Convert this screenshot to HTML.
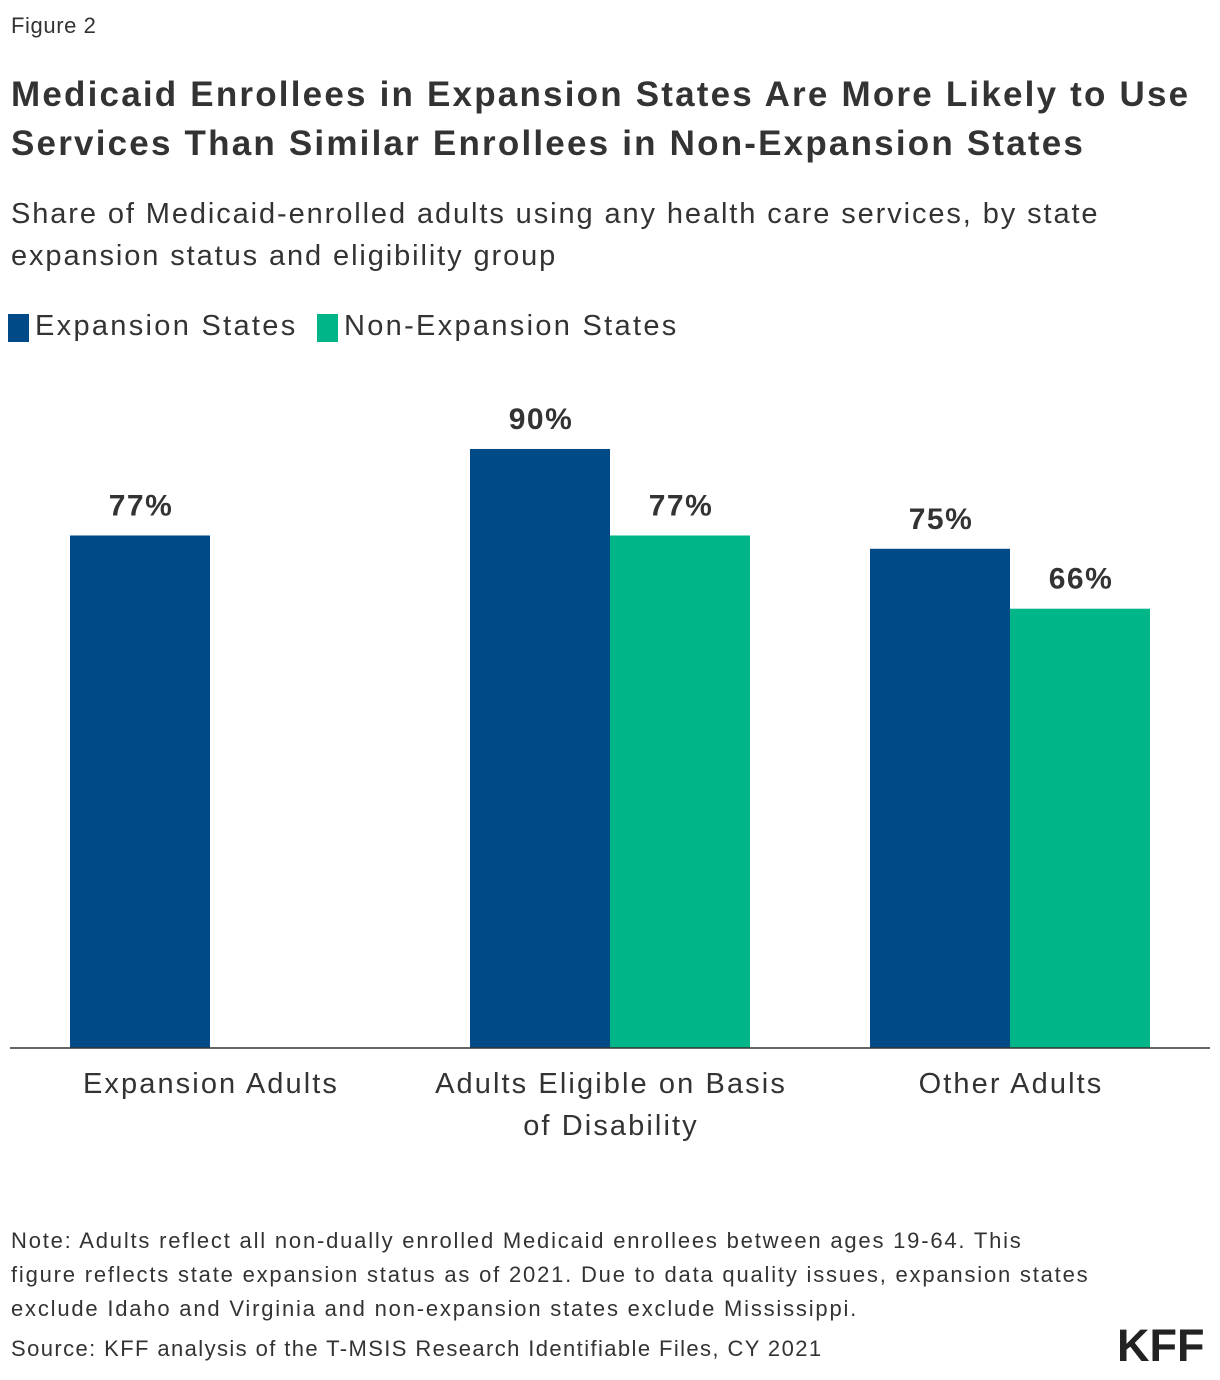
<!DOCTYPE html>
<html><head><meta charset="utf-8"><style>
body{margin:0;background:#fff;font-family:"Liberation Sans",sans-serif;color:#333;}
#wrap{position:relative;width:1220px;height:1380px;overflow:hidden;}
.t{position:absolute;white-space:nowrap;}
</style></head><body>
<div id="wrap">
<div class="t" style="left:11px;top:13px;font-size:22px;color:#333;letter-spacing:0.6px;">Figure 2</div>
<div class="t" style="left:11px;top:70px;font-size:35px;font-weight:bold;line-height:49px;color:#333;letter-spacing:2.2px;">Medicaid Enrollees in Expansion States Are More Likely to Use<br>Services Than Similar Enrollees in Non-Expansion States</div>
<div class="t" style="left:11px;top:193px;font-size:29px;line-height:42px;color:#333;letter-spacing:1.9px;">Share of Medicaid-enrolled adults using any health care services, by state<br>expansion status and eligibility group</div>
<div>
<div style="position:absolute;left:8px;top:314px;width:21px;height:28px;background:#004a87;"></div>
<div class="t" style="left:35px;top:310px;font-size:29px;color:#333;letter-spacing:2.3px;">Expansion States</div>
<div style="position:absolute;left:317px;top:314px;width:21px;height:28px;background:#00b588;"></div>
<div class="t" style="left:344px;top:310px;font-size:29px;color:#333;letter-spacing:2.3px;">Non-Expansion States</div>
</div>
<svg id="chart" width="1220" height="1380" style="position:absolute;left:0;top:0;"></svg>
<div class="t" style="left:11px;top:1224px;font-size:22px;line-height:34px;color:#333;letter-spacing:1.8px;">Note: Adults reflect all non-dually enrolled Medicaid enrollees between ages 19-64. This<br>figure reflects state expansion status as of 2021. Due to data quality issues, expansion states<br>exclude Idaho and Virginia and non-expansion states exclude Mississippi.</div>
<div class="t" style="left:11px;top:1336px;font-size:22px;color:#333;letter-spacing:1.4px;">Source: KFF analysis of the T-MSIS Research Identifiable Files, CY 2021</div>
<div class="t" style="left:1117px;top:1320px;font-size:45px;font-weight:bold;color:#222;letter-spacing:0px;">KFF</div>
</div>
<script>
const categories=["Expansion Adults","Adults Eligible on Basis\nof Disability","Other Adults"];
const expansionValues=[77,90,75];
const nonExpansionValues=[null,77,66];
const NS="http://www.w3.org/2000/svg";
const svg=document.getElementById('chart');
const baseY=1048, pxPer=6.656, left=10, groupW=400, barW=140;
function y(v){return baseY-v*pxPer;}
function gc(i){return left+groupW*i+groupW/2;}
function mk(t,a){const e=document.createElementNS(NS,t);for(const k in a)e.setAttribute(k,a[k]);svg.appendChild(e);return e;}
const series=[[expansionValues,"#004a87",-1,"expansion"],[nonExpansionValues,"#00b588",0,"non-expansion"]];
categories.forEach((c,i)=>{
  series.forEach(([vals,col,off,nm])=>{
    const v=vals[i]; if(v==null)return;
    const x=gc(i)+off*barW;
    const r=mk('rect',{x:x,y:y(v),width:barW,height:baseY-y(v),fill:col});
    
    
    const t=mk('text',{x:x+barW/2+1,y:y(v)-20,'text-anchor':'middle','font-size':'30','font-weight':'bold',fill:'#333','letter-spacing':'1.5','font-family':'Liberation Sans, sans-serif'});
    t.textContent=v+'%';
    
    
  });
  const lines=c.split('\n');
  lines.forEach((ln,j)=>{
    const t=mk('text',{x:gc(i)+1,y:1093+j*42,'text-anchor':'middle','font-size':'29',fill:'#333','letter-spacing':'2.1','font-family':'Liberation Sans, sans-serif'});
    t.textContent=ln;
    
    
  });
});
const ax=mk('line',{x1:10,x2:1210,y1:baseY,y2:baseY,stroke:'#333','stroke-width':'1.5'});


</script>
</body></html>
